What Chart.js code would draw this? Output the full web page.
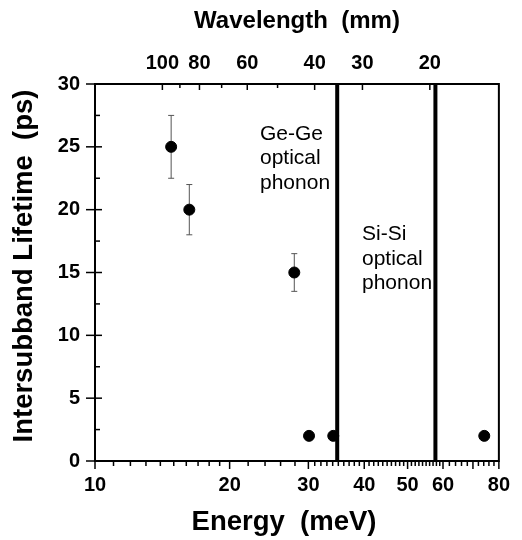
<!DOCTYPE html>
<html>
 <head>
  <meta charset="utf-8" />
  <title></title>
  <style>
   body { margin: 0; background: #fff; }
   #box { width: 522px; height: 540px; }
  </style>
 </head>
 <body>
  <div id="box"><canvas id="lifeChart" width="522" height="540"></canvas></div>
  <script src="https://cdn.jsdelivr.net/npm/chart.js@4.4.1/dist/chart.umd.min.js"></script>
  <script>
// data
let energy   = [14.8, 16.25, 27.9, 30.1, 34.1, 74.2];   // meV
let lifetime = [25, 20, 15, 2, 2, 2];                   // ps
let errBar   = [2.5, 2, 1.5, 0, 0, 0];
let phononLines = [34.8, 57.7];                         // Ge-Ge, Si-Si (meV)

let energyMin = 10, energyMax = 80;
let energyTicks  = [10, 20, 30, 40, 50, 60, 70, 80];
let energyLabels = ['10', '20', '30', '40', '50', '60', '', '80'];
let energyMinor  = [11, 12, 13, 14, 15, 16, 17, 18, 19, 22, 24, 26, 28,
                    31, 32, 33, 34, 35, 36, 37, 38, 39, 41, 42, 43, 44, 45, 46, 47, 48, 49,
                    51, 52, 53, 54, 55, 56, 57, 58, 59, 62, 64, 66, 68, 72, 74, 76, 78];

let waveMin = 13.2, waveMax = 150;
let waveTicks  = [100, 90, 80, 70, 60, 50, 40, 30, 20];
let waveLabels = ['100', '', '80', '', '60', '', '40', '30', '20'];

let yMin = 0, yMax = 30;
let yTicks = [0, 5, 10, 15, 20, 25, 30];
let yMinor = [2.5, 7.5, 12.5, 17.5, 22.5, 27.5];

let geText = ['Ge-Ge', 'optical', 'phonon'];
let siText = ['Si-Si', 'optical', 'phonon'];

Chart.defaults.font.family = "'Liberation Sans', Arial, sans-serif";
Chart.defaults.color = '#000';

function line(ctx, x1, y1, x2, y2) {
    ctx.beginPath();
    ctx.moveTo(x1, y1);
    ctx.lineTo(x2, y2);
    ctx.stroke();
}

// error bars under the dots
let errorBars = {
    id: 'errorBars',
    beforeDatasetsDraw(chart) {
        let ctx = chart.ctx, sx = chart.scales.x, sy = chart.scales.y;
        ctx.save();
        ctx.strokeStyle = '#555';
        ctx.lineWidth = 1;
        for (let i = 0; i < energy.length; i++) {
            if (!errBar[i]) continue;
            let px = sx.getPixelForValue(energy[i]);
            let top = sy.getPixelForValue(lifetime[i] + errBar[i]);
            let bot = sy.getPixelForValue(lifetime[i] - errBar[i]);
            line(ctx, px, top, px, bot);
            line(ctx, px - 3, top, px + 3, top);
            line(ctx, px - 3, bot, px + 3, bot);
        }
        ctx.restore();
    }
};

// frame, tick marks, titles, labels
let frame = {
    id: 'frame',
    afterDraw(chart) {
        let ctx = chart.ctx, a = chart.chartArea;
        let sx = chart.scales.x, sx2 = chart.scales.x2, sy = chart.scales.y;
        ctx.save();
        ctx.strokeStyle = '#000';
        ctx.lineWidth = 2;
        ctx.strokeRect(a.left, a.top, a.right - a.left, a.bottom - a.top);
        ctx.lineWidth = 1.5;
        yTicks.forEach(v => { let p = sy.getPixelForValue(v); line(ctx, a.left - 9, p, a.left + 7, p); });
        yMinor.forEach(v => { let p = sy.getPixelForValue(v); line(ctx, a.left, p, a.left + 5, p); });
        energyTicks.forEach(v => { let p = sx.getPixelForValue(v); line(ctx, p, a.bottom, p, a.bottom + 8); });
        energyMinor.forEach(v => { let p = sx.getPixelForValue(v); line(ctx, p, a.bottom, p, a.bottom + 5); });
        waveTicks.forEach((v, i) => {
            let p = sx2.getPixelForValue(v);
            line(ctx, p, a.top, p, a.top + (waveLabels[i] ? 6 : 4));
        });

        ctx.fillStyle = '#000';
        ctx.textAlign = 'center';
        ctx.textBaseline = 'alphabetic';
        ctx.font = "bold 27.5px 'Liberation Sans', Arial, sans-serif";
        ctx.fillText('Energy  (meV)', 284, 530);
        ctx.save();
        ctx.translate(32, 266);
        ctx.rotate(-Math.PI / 2);
        ctx.fillText('Intersubband Lifetime  (ps)', 0, 0);
        ctx.restore();
        ctx.font = "bold 24px 'Liberation Sans', Arial, sans-serif";
        ctx.fillText('Wavelength  (mm)', 297, 28);

        ctx.font = "21px 'Liberation Sans', Arial, sans-serif";
        ctx.textAlign = 'left';
        geText.forEach((t, i) => ctx.fillText(t, 260, 140 + i * 24.3));
        siText.forEach((t, i) => ctx.fillText(t, 362, 240 + i * 24.6));
        ctx.restore();
    }
};

let points = energy.map((e, i) => ({ x: e, y: lifetime[i] }));
let lineSets = phononLines.map(e => ({
    data: [{ x: e, y: yMin }, { x: e, y: yMax }],
    showLine: true,
    borderColor: '#000',
    borderWidth: 4,
    pointRadius: 0,
    order: 0
}));

let tickFont = { size: 20, weight: 'bold' };

new Chart(document.getElementById('lifeChart'), {
    type: 'scatter',
    data: {
        datasets: [{
            data: points,
            backgroundColor: '#000',
            borderColor: '#000',
            pointRadius: 5.5,
            order: 1
        }].concat(lineSets)
    },
    options: {
        responsive: false,
        animation: false,
        layout: { padding: { right: 20 } },
        plugins: { legend: { display: false }, tooltip: { enabled: false } },
        scales: {
            x: {
                type: 'logarithmic',
                position: 'bottom',
                min: energyMin, max: energyMax,
                grid: { display: false, drawTicks: false },
                border: { display: false },
                afterBuildTicks: s => { s.ticks = energyTicks.map(v => ({ value: v })); },
                afterFit: s => { s.height = 79; },
                ticks: {
                    font: tickFont, padding: 12, autoSkip: false, maxRotation: 0,
                    callback: v => energyLabels[energyTicks.indexOf(v)]
                }
            },
            x2: {
                type: 'logarithmic',
                position: 'top',
                reverse: true,
                min: waveMin, max: waveMax,
                grid: { display: false, drawTicks: false },
                border: { display: false },
                afterBuildTicks: s => { s.ticks = waveTicks.map(v => ({ value: v })); },
                afterFit: s => { s.height = 84; },
                ticks: {
                    font: tickFont, padding: 9, autoSkip: false, maxRotation: 0,
                    callback: v => waveLabels[waveTicks.indexOf(v)]
                }
            },
            y: {
                min: yMin, max: yMax,
                grid: { display: false, drawTicks: false },
                border: { display: false },
                afterBuildTicks: s => { s.ticks = yTicks.map(v => ({ value: v })); },
                afterFit: s => { s.width = 95; },
                ticks: { font: tickFont, padding: 15 }
            }
        }
    },
    plugins: [errorBars, frame]
});
  </script>
 </body>
</html>
